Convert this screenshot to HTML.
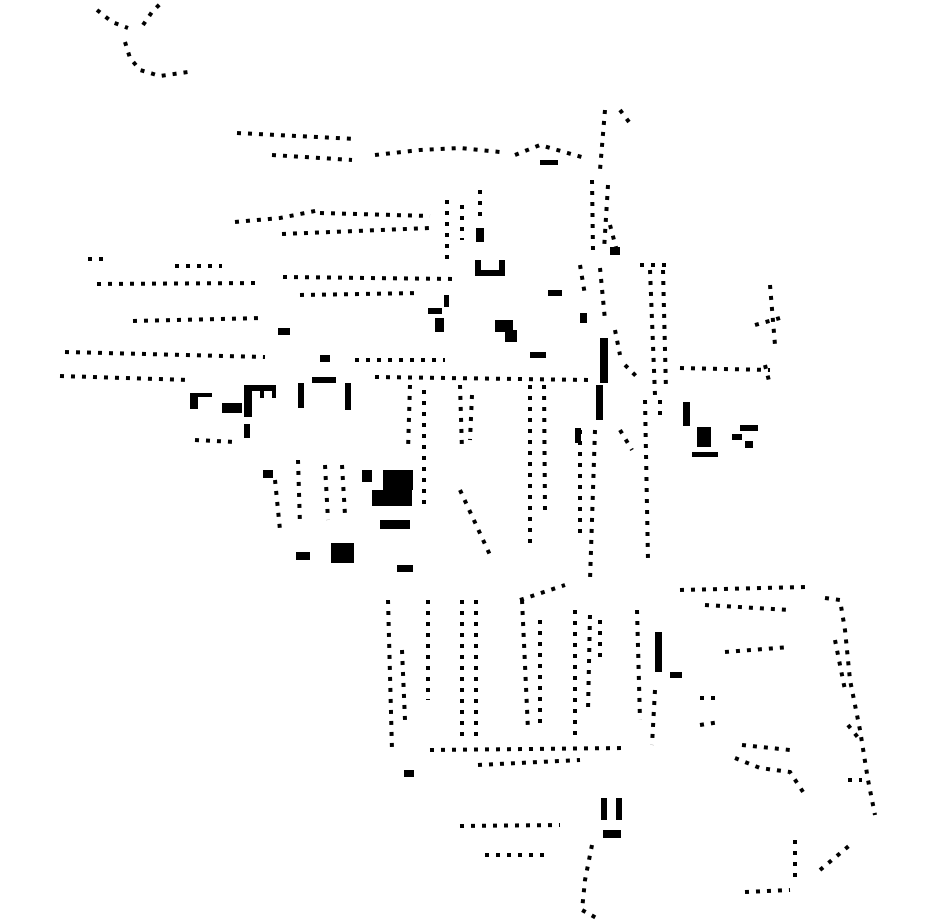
<!DOCTYPE html>
<html><head><style>html,body{margin:0;padding:0;background:#fff}svg{display:block}</style></head>
<body>
<svg width="930" height="924" viewBox="0 0 930 924" xmlns="http://www.w3.org/2000/svg">
<g stroke="#000" stroke-width="4" fill="none" stroke-dasharray="4 7">
<polyline points="97,10 112,22 128,28"/>
<polyline points="143,25 152,12 160,4"/>
<polyline points="125,42 130,58 140,70 160,76 188,72"/>
<line x1="237" y1="133" x2="357" y2="139"/>
<line x1="272" y1="155" x2="352" y2="160"/>
<polyline points="375,155 420,150 460,148 500,152"/>
<polyline points="515,155 540,145 585,158"/>
<line x1="605" y1="110" x2="600" y2="170"/>
<line x1="620" y1="110" x2="632" y2="126"/>
<line x1="592" y1="180" x2="593" y2="250"/>
<line x1="608" y1="185" x2="604" y2="250"/>
<polyline points="235,222 280,218 320,210"/>
<line x1="320" y1="213" x2="430" y2="216"/>
<line x1="282" y1="234" x2="430" y2="228"/>
<line x1="447" y1="200" x2="447" y2="260"/>
<line x1="462" y1="205" x2="462" y2="240"/>
<line x1="480" y1="190" x2="480" y2="220"/>
<line x1="88" y1="259" x2="110" y2="259"/>
<line x1="175" y1="266" x2="222" y2="266"/>
<line x1="97" y1="284" x2="255" y2="283"/>
<line x1="283" y1="277" x2="455" y2="279"/>
<line x1="300" y1="295" x2="420" y2="293"/>
<line x1="133" y1="321" x2="262" y2="318"/>
<line x1="65" y1="352" x2="265" y2="357"/>
<line x1="60" y1="376" x2="190" y2="380"/>
<line x1="355" y1="360" x2="445" y2="360"/>
<line x1="375" y1="377" x2="590" y2="380"/>
<line x1="640" y1="265" x2="668" y2="265"/>
<line x1="650" y1="270" x2="655" y2="395"/>
<line x1="663" y1="270" x2="666" y2="390"/>
<line x1="580" y1="265" x2="585" y2="295"/>
<line x1="615" y1="330" x2="620" y2="355"/>
<line x1="625" y1="365" x2="640" y2="380"/>
<line x1="680" y1="368" x2="770" y2="370"/>
<line x1="770" y1="285" x2="775" y2="345"/>
<line x1="765" y1="365" x2="770" y2="385"/>
<line x1="410" y1="385" x2="408" y2="450"/>
<line x1="424" y1="390" x2="424" y2="510"/>
<line x1="460" y1="385" x2="462" y2="450"/>
<line x1="472" y1="395" x2="470" y2="440"/>
<line x1="530" y1="385" x2="530" y2="545"/>
<line x1="544" y1="385" x2="545" y2="510"/>
<line x1="580" y1="430" x2="580" y2="540"/>
<line x1="595" y1="430" x2="590" y2="580"/>
<line x1="645" y1="400" x2="648" y2="560"/>
<line x1="660" y1="400" x2="660" y2="420"/>
<line x1="620" y1="430" x2="632" y2="450"/>
<line x1="195" y1="440" x2="235" y2="442"/>
<line x1="275" y1="480" x2="280" y2="530"/>
<line x1="298" y1="460" x2="300" y2="525"/>
<line x1="325" y1="465" x2="328" y2="520"/>
<line x1="342" y1="465" x2="345" y2="515"/>
<line x1="460" y1="490" x2="490" y2="555"/>
<line x1="388" y1="600" x2="392" y2="750"/>
<line x1="402" y1="650" x2="405" y2="720"/>
<line x1="428" y1="600" x2="428" y2="700"/>
<line x1="462" y1="600" x2="462" y2="740"/>
<line x1="476" y1="600" x2="476" y2="740"/>
<line x1="522" y1="600" x2="528" y2="730"/>
<line x1="540" y1="620" x2="540" y2="730"/>
<line x1="575" y1="610" x2="575" y2="740"/>
<line x1="590" y1="615" x2="588" y2="710"/>
<line x1="600" y1="620" x2="600" y2="660"/>
<line x1="637" y1="610" x2="640" y2="720"/>
<line x1="655" y1="690" x2="652" y2="745"/>
<line x1="520" y1="600" x2="565" y2="585"/>
<line x1="430" y1="750" x2="625" y2="748"/>
<line x1="478" y1="765" x2="580" y2="760"/>
<line x1="680" y1="590" x2="805" y2="587"/>
<line x1="705" y1="605" x2="790" y2="610"/>
<line x1="725" y1="652" x2="790" y2="647"/>
<polyline points="825,598 840,600 845,630 850,680 860,730 868,780 875,815"/>
<line x1="835" y1="640" x2="845" y2="690"/>
<line x1="848" y1="725" x2="860" y2="740"/>
<line x1="848" y1="780" x2="862" y2="780"/>
<polyline points="735,758 760,768 790,772 805,795"/>
<line x1="742" y1="745" x2="790" y2="750"/>
<line x1="700" y1="698" x2="720" y2="698"/>
<line x1="700" y1="725" x2="720" y2="722"/>
<line x1="460" y1="826" x2="560" y2="825"/>
<line x1="485" y1="855" x2="550" y2="855"/>
<polyline points="592,845 585,880 582,910 600,920"/>
<line x1="745" y1="892" x2="790" y2="890"/>
<line x1="795" y1="840" x2="795" y2="880"/>
<line x1="820" y1="870" x2="850" y2="845"/>
<line x1="610" y1="225" x2="618" y2="255"/>
<line x1="600" y1="268" x2="605" y2="320"/>
<line x1="755" y1="325" x2="780" y2="318"/>
</g>
<g fill="#000">
<rect x="475" y="260" width="6" height="16"/><rect x="499" y="260" width="6" height="16"/><rect x="475" y="270" width="30" height="6"/>
<rect x="476" y="228" width="8" height="14"/>
<rect x="540" y="160" width="18" height="5"/>
<rect x="548" y="290" width="14" height="6"/>
<rect x="580" y="313" width="7" height="10"/>
<rect x="428" y="308" width="14" height="6"/>
<rect x="435" y="318" width="9" height="14"/>
<rect x="444" y="295" width="5" height="12"/>
<rect x="495" y="320" width="18" height="12"/><rect x="505" y="330" width="12" height="12"/>
<rect x="530" y="352" width="16" height="6"/>
<rect x="278" y="328" width="12" height="7"/>
<rect x="320" y="355" width="10" height="7"/>
<rect x="600" y="338" width="8" height="45"/>
<rect x="596" y="385" width="7" height="35"/>
<rect x="610" y="247" width="10" height="8"/>
<rect x="575" y="428" width="6" height="15"/>
<rect x="190" y="393" width="8" height="16"/>
<rect x="196" y="393" width="16" height="4"/>
<rect x="222" y="403" width="20" height="10"/>
<rect x="244" y="385" width="8" height="32"/>
<rect x="250" y="385" width="26" height="6"/>
<rect x="260" y="390" width="4" height="8"/><rect x="272" y="390" width="4" height="8"/>
<rect x="244" y="424" width="6" height="14"/>
<rect x="298" y="383" width="6" height="25"/>
<rect x="312" y="377" width="24" height="6"/>
<rect x="345" y="383" width="6" height="27"/>
<rect x="263" y="470" width="10" height="8"/>
<rect x="362" y="470" width="10" height="12"/>
<rect x="383" y="470" width="30" height="20"/>
<rect x="372" y="490" width="40" height="16"/>
<rect x="380" y="520" width="30" height="9"/>
<rect x="331" y="543" width="23" height="20"/>
<rect x="296" y="552" width="14" height="8"/>
<rect x="397" y="565" width="16" height="7"/>
<rect x="683" y="402" width="7" height="24"/>
<rect x="697" y="427" width="14" height="20"/>
<rect x="692" y="452" width="26" height="5"/>
<rect x="740" y="425" width="18" height="6"/>
<rect x="732" y="434" width="10" height="6"/>
<rect x="745" y="441" width="8" height="7"/>
<rect x="655" y="632" width="7" height="40"/>
<rect x="670" y="672" width="12" height="6"/>
<rect x="601" y="798" width="6" height="22"/>
<rect x="616" y="798" width="6" height="22"/>
<rect x="603" y="830" width="18" height="8"/>
<rect x="404" y="770" width="10" height="7"/>
</g>
</svg>
</body></html>
